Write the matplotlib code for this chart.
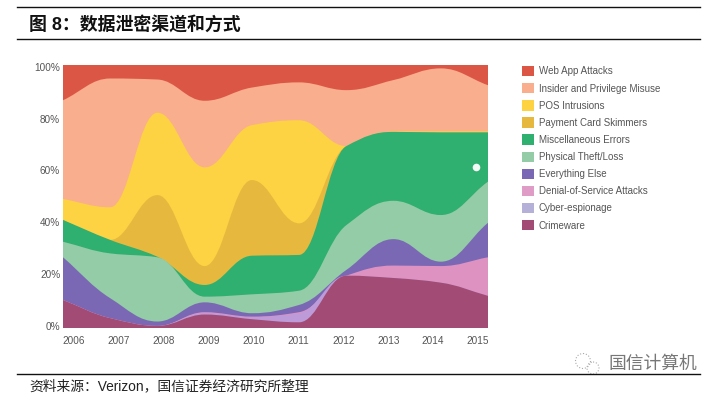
import numpy as np
import matplotlib
matplotlib.use('Agg')
import matplotlib.pyplot as plt
from matplotlib.path import Path
from matplotlib.patches import PathPatch, Patch, Circle

plt.rcParams['font.family'] = ['Liberation Sans', 'Noto Sans CJK SC', 'DejaVu Sans']

years = [2006, 2007, 2008, 2009, 2010, 2011, 2012, 2013, 2014, 2015]

# shares, bottom of the stack first
crimeware = [10, 3, 0, 4.4, 2.6, 1.4, 19.4, 18.5, 16.7, 11.6]
cyber = [0, 0, 0, 0.6, 0.8, 3.5, 0, 0, 0, 0]
dos = [0, 0, 0, 0.3, 0.2, 0.4, 0, 4.8, 6.4, 14.9]
everything = [16.5, 7.7, 1.7, 3.8, 1.3, 2.8, 2.2, 10.2, 1.7, 13.3]
physical = [6, 17.3, 24.8, 2.2, 7.3, 5.5, 17.3, 14.8, 18, 15.9]
misc = [8.4, 5.2, 0.2, 4.5, 14.9, 13.8, 30.5, 26.6, 31.9, 19]
payment = [0, 0, 23.8, 7.3, 29.2, 12.2, 0, 0, 0, 0]
pos = [8.1, 12.6, 31.8, 38.1, 21.2, 39.8, 0, 0.2, 0.4, 0.4]
insider = [38.1, 49.7, 12.8, 25.7, 14.5, 14.6, 21.6, 19.8, 24.3, 17.8]
web_app = [12.9, 4.5, 4.9, 13.1, 8, 6, 9, 5.1, 0.6, 7.1]

series = [crimeware, cyber, dos, everything, physical, misc, payment, pos, insider, web_app]
names = ['Crimeware', 'Cyber-espionage', 'Denial-of-Service Attacks', 'Everything Else',
         'Physical Theft/Loss', 'Miscellaneous Errors', 'Payment Card Skimmers',
         'POS Intrusions', 'Insider and Privilege Misuse', 'Web App Attacks']
colors = ['#A24B75', '#BC9BD8', '#DE92C2', '#7A68B4', '#93CCA6', '#2FAF70',
          '#E6B93E', '#FDD243', '#F9AE8E', '#DC5645']
legend_colors = ['#A24B75', '#B4B0D8', '#DE9CC6', '#7A68B4', '#93CCA6', '#2FAF70',
                 '#E6B93E', '#FDD243', '#F9AE8E', '#DC5645']

W, H = 720, 395


def curve_area(x, y, base):
    # smooth top edge (flat at local extremes) drawn as bezier segments, closed down to base
    x = np.asarray(x, float)
    y = np.asarray(y, float)
    s = np.diff(y) / np.diff(x)
    t = np.zeros(len(y))
    for i in range(1, len(y) - 1):
        if s[i - 1] * s[i] > 0:
            t[i] = 2 * s[i - 1] * s[i] / (s[i - 1] + s[i])
    t[0] = s[0]
    t[-1] = s[-1]
    h = np.diff(x) / 2.5
    verts = [(x[0], base), (x[0], y[0])]
    codes = [Path.MOVETO, Path.LINETO]
    for i in range(len(x) - 1):
        verts += [(x[i] + h[i], y[i] + t[i] * h[i]),
                  (x[i + 1] - h[i], y[i + 1] - t[i + 1] * h[i]),
                  (x[i + 1], y[i + 1])]
        codes += [Path.CURVE4] * 3
    verts += [(x[-1], base), (x[0], base)]
    codes += [Path.LINETO, Path.CLOSEPOLY]
    return Path(verts, codes)


fig = plt.figure(figsize=(W / 100, H / 100), dpi=100)

# page furniture in pixel coordinates
page = fig.add_axes([0, 0, 1, 1])
page.set_xlim(0, W)
page.set_ylim(H, 0)
page.axis('off')
for yl in [7, 39, 374]:
    page.plot([17, 700], [yl, yl], color='#111111', lw=1)
page.text(29, 24.5, '图 8\uff1a数据泄密渠道和方式', fontsize=12.9, fontweight='bold',
          color='#111111', va='center')
page.text(29, 386, '资料来源\uff1aVerizon\uff0c国信证券经济研究所整理', fontsize=9.95,
          color='#222222', va='center')
page.text(608, 364, '国信计算机', fontsize=12.8, color='#777777', va='center')
page.add_patch(Circle((583, 361), 7.5, fill=False, ec='#aaaaaa', lw=0.8, ls=':'))
page.add_patch(Circle((593, 368), 6, fill=False, ec='#aaaaaa', lw=0.8, ls=':'))

ax = fig.add_axes([63 / W, 1 - 328 / H, 425 / W, 263.5 / H])
ax.set_facecolor(colors[-1])
ax.set_xlim(2006, 2015)
ax.set_ylim(-0.8, 100.9)

# painter's order: every layer runs down to the baseline, the next one covers it
tops = np.cumsum(series, axis=0)
for k in range(len(series) - 1, -1, -1):
    ax.add_patch(PathPatch(curve_area(years, tops[k], -0.8), fc=colors[k], ec='none'))

ax.plot([2014.75], [61.2], 'o', color='#f2fbf5', ms=5.5, mew=0)

for sp in ax.spines.values():
    sp.set_visible(False)
ax.set_yticks([0, 20, 40, 60, 80, 100])
ax.set_yticklabels(['0%', '20%', '40%', '60%', '80%', '100%'])
# the year labels sit inside the edges of the area, not under the data points
ax.set_xticks(np.linspace(2006.23, 2014.79, 10))
ax.set_xticklabels(years)
ax.tick_params(length=0, labelsize=7.2, labelcolor='#555555')
ax.tick_params(axis='y', pad=2)
ax.tick_params(axis='x', pad=6)

handles = [Patch(fc=legend_colors[k], ec='none', label=names[k]) for k in range(len(names) - 1, -1, -1)]
fig.legend(handles=handles, loc='upper left', bbox_to_anchor=(519 / W, 1 - 63 / H), frameon=False,
           fontsize=7.05, labelcolor='#555555', handlelength=1.28, handleheight=1.25,
           handletextpad=0.42, labelspacing=0.68, borderpad=0.3, borderaxespad=0)

fig.savefig('out.png', dpi=100)
